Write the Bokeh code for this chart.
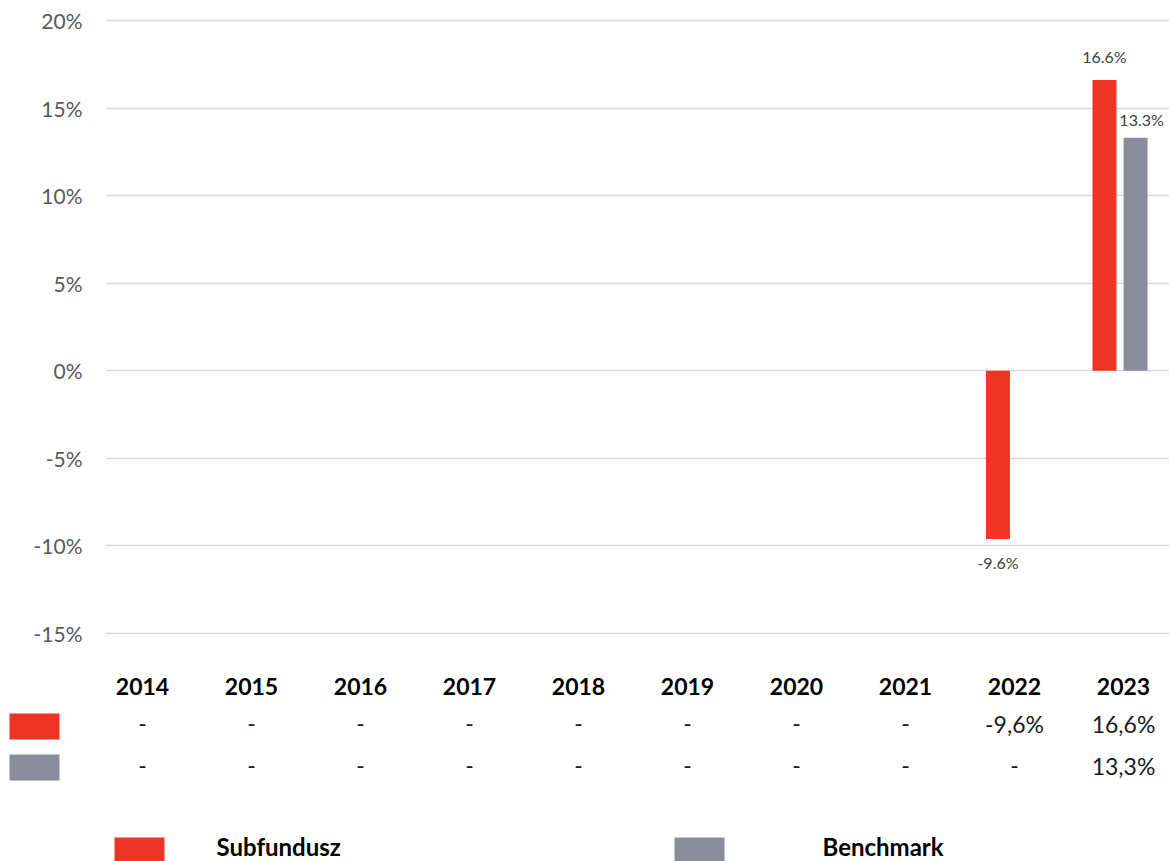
from bokeh.plotting import figure
from bokeh.models import Range1d, FixedTicker, CustomJSTickFormatter
from bokeh.core.properties import value
from bokeh.embed import file_html
from bokeh.resources import INLINE

# ---- data ----
years = ["2014", "2015", "2016", "2017", "2018", "2019", "2020", "2021", "2022", "2023"]
subfundusz = [None, None, None, None, None, None, None, None, -9.6, 16.6]
benchmark = [None, None, None, None, None, None, None, None, None, 13.3]
series_names = ["Subfundusz", "Benchmark"]
y_ticks = [-15, -10, -5, 0, 5, 10, 15, 20]

RED = "#EE3424"
GRAY = "#8B8E9A"
FONT = "Lato"

W = 1169
H1 = 648
H2 = 861 - H1

# ---- chart ----
px_per_pct = 613 / 35.0
pad = 10 / px_per_pct
frame_w = W - 105
p = figure(width=W, height=H1, output_backend="svg", toolbar_location=None,
           x_range=Range1d(-0.526, -0.526 + frame_w / 106.5),
           y_range=Range1d(-15 - pad, 20 + pad),
           min_border_left=105, min_border_right=0, min_border_top=10, min_border_bottom=5)
p.outline_line_color = None
p.xaxis.visible = False
p.xgrid.grid_line_color = None
p.ygrid.grid_line_color = "#D9D9D9"
p.ygrid.grid_line_width = 1.6
p.yaxis.ticker = FixedTicker(ticks=y_ticks)
p.yaxis.formatter = CustomJSTickFormatter(code="return tick + '%';")
p.yaxis.axis_line_color = None
p.yaxis.major_tick_line_color = None
p.yaxis.major_tick_out = 0
p.yaxis.minor_tick_line_color = None
p.yaxis.minor_tick_out = 0
p.yaxis.major_label_standoff = 23
p.yaxis.major_label_text_font = FONT
p.yaxis.major_label_text_font_size = "21px"
p.yaxis.major_label_text_color = "#595959"

bw = 0.225
off = 0.146
f_idx = [i for i, v in enumerate(subfundusz) if v is not None]
b_idx = [i for i, v in enumerate(benchmark) if v is not None]
fx = [i - off for i in f_idx]
fv = [subfundusz[i] for i in f_idx]
bx = [i + off for i in b_idx]
bv = [benchmark[i] for i in b_idx]
p.vbar(x=fx, top=fv, bottom=0, width=bw, fill_color=RED, line_color=None)
p.vbar(x=bx, top=bv, bottom=0, width=bw, fill_color=GRAY, line_color=None)

common = dict(text_font=value(FONT), text_font_size="16px", text_color="#404040", text_align="center")
pos = [k for k in range(len(fv)) if fv[k] >= 0]
neg = [k for k in range(len(fv)) if fv[k] < 0]
p.text(x=[fx[k] for k in pos], y=[fv[k] for k in pos], text=["%.1f%%" % fv[k] for k in pos],
       text_baseline="bottom", y_offset=-14, **common)
p.text(x=[fx[k] for k in neg], y=[fv[k] for k in neg], text=["%.1f%%" % fv[k] for k in neg],
       text_baseline="top", y_offset=14, **common)
p.text(x=bx, y=bv, text=["%.1f%%" % v for v in bv],
       text_baseline="bottom", y_offset=-9, x_offset=6, **common)

# ---- table + legend (separate root, page-pixel coordinates) ----
t = figure(width=W, height=H2, output_backend="svg", toolbar_location=None,
           x_range=Range1d(0, W), y_range=Range1d(H1 + H2, H1),
           min_border_left=0, min_border_right=0, min_border_top=0, min_border_bottom=0)
t.axis.visible = False
t.grid.grid_line_color = None
t.outline_line_color = None

col_x = [142 + 109 * i for i in range(len(years))]
t.text(x=col_x, y=[686] * len(years), text=years, text_font=value(FONT), text_font_style="bold",
       text_font_size="23px", text_color="#000000", text_align="center", text_baseline="middle")

def fmt(v):
    return "-" if v is None else ("%.1f%%" % v).replace(".", ",")

row_common = dict(text_font=value(FONT), text_font_size="23px", text_color="#1a1a1a",
                  text_align="center", text_baseline="middle")
t.text(x=col_x, y=[723] * len(years), text=[fmt(v) for v in subfundusz], **row_common)
t.text(x=col_x, y=[765] * len(years), text=[fmt(v) for v in benchmark], **row_common)

t.quad(left=[9, 9], right=[59, 59], top=[713, 754], bottom=[739, 780],
       fill_color=[RED, GRAY], line_color=None)

# legend
t.quad(left=[114, 674], right=[164, 724], top=[837, 837], bottom=[861, 861],
       fill_color=[RED, GRAY], line_color=None)
t.text(x=[216, 822], y=[846, 846], text=series_names, text_font=value(FONT), text_font_style="bold",
       text_font_size="24px", text_color="#000000", text_align="left", text_baseline="middle")

open("out.html", "w").write(file_html([p, t], INLINE))
